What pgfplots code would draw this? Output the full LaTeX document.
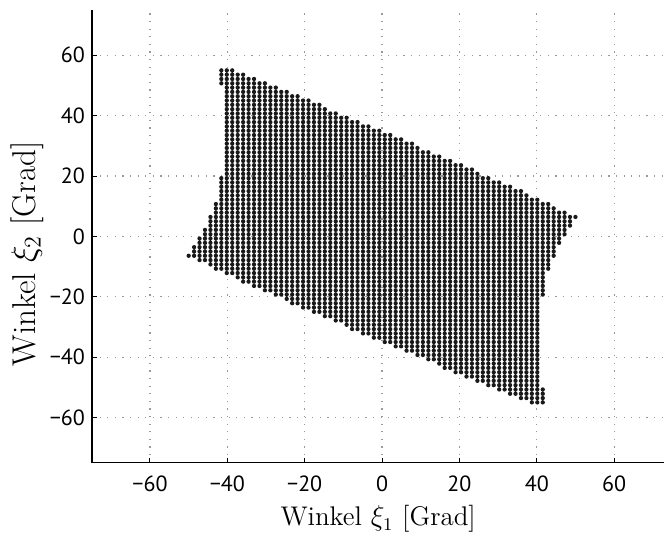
\documentclass[border=0pt]{standalone}
\usepackage{fontspec}
\usepackage{pgfplots}
\pgfplotsset{compat=1.18}
\newfontfamily\ticksans{PT Sans}
\begin{document}
\begin{tikzpicture}
\begin{axis}[
  x=1.935pt, y=1.51pt,
  xmin=-75, xmax=73, ymin=-75, ymax=75,
  axis x line*=bottom, axis y line*=left,
  axis line style={-, line width=0.6pt},
  xtick={-60,-40,-20,0,20,40,60},
  ytick={-60,-40,-20,0,20,40,60},
  xticklabels={−60,−40,−20,0,20,40,60},
  yticklabels={−60,−40,−20,0,20,40,60},
  tick label style={font=\ticksans\fontsize{11}{13}\selectfont},
  xticklabel style={yshift=-3pt},
  major tick length=2.5pt,
  tick style={black, line width=0.5pt},
  grid=major,
  major grid style={gray!80, line width=0.6pt, dash pattern=on 0.6pt off 3.2pt},
  xlabel={Winkel $\xi_1$ [Grad]},
  ylabel={Winkel $\xi_2$ [Grad]},
  xlabel style={font=\fontsize{13.5}{16}\selectfont},
  ylabel style={font=\fontsize{16.5}{19}\selectfont, inner sep=0pt,
    at={(axis description cs:-0.0838,0.4614)}, anchor=south, rotate=0},
  unbounded coords=jump,
]
\addplot[no markers, black!90, line width=2.15pt, line cap=round, dash pattern=on 0pt off 2.157143pt] coordinates {
(-50.000,-6.429) (-50.000,-5.729) (0,nan)
(-48.592,-6.429) (-48.592,-2.871) (0,nan)
(-47.183,-7.857) (-47.183,-0.014) (0,nan)
(-45.775,-7.857) (-45.775,2.843) (0,nan)
(-44.366,-9.286) (-44.366,7.129) (0,nan)
(-42.958,-10.714) (-42.958,11.414) (0,nan)
(-41.549,-10.714) (-41.549,19.986) (0,nan)
(-41.549,50.714) (-41.549,55.7) (0,nan)
(-40.141,-12.143) (-40.141,55.7) (0,nan)
(-38.732,-12.143) (-38.732,55.7) (0,nan)
(-37.324,-13.571) (-37.324,54.271) (0,nan)
(-35.915,-15.000) (-35.915,54.271) (0,nan)
(-34.507,-15.000) (-34.507,52.843) (0,nan)
(-33.099,-16.429) (-33.099,52.843) (0,nan)
(-31.690,-16.429) (-31.690,51.414) (0,nan)
(-30.282,-17.857) (-30.282,51.414) (0,nan)
(-28.873,-17.857) (-28.873,49.986) (0,nan)
(-27.465,-19.286) (-27.465,49.986) (0,nan)
(-26.056,-19.286) (-26.056,48.557) (0,nan)
(-24.648,-20.714) (-24.648,48.557) (0,nan)
(-23.239,-22.143) (-23.239,47.129) (0,nan)
(-21.831,-22.143) (-21.831,47.129) (0,nan)
(-20.423,-23.571) (-20.423,45.700) (0,nan)
(-19.014,-23.571) (-19.014,45.700) (0,nan)
(-17.606,-25.000) (-17.606,44.271) (0,nan)
(-16.197,-25.000) (-16.197,44.271) (0,nan)
(-14.789,-26.429) (-14.789,42.843) (0,nan)
(-13.380,-26.429) (-13.380,41.414) (0,nan)
(-11.972,-27.857) (-11.972,41.414) (0,nan)
(-10.563,-27.857) (-10.563,39.986) (0,nan)
(-9.155,-29.286) (-9.155,39.986) (0,nan)
(-7.746,-30.714) (-7.746,38.557) (0,nan)
(-6.338,-30.714) (-6.338,38.557) (0,nan)
(-4.930,-32.143) (-4.930,37.129) (0,nan)
(-3.521,-32.143) (-3.521,37.129) (0,nan)
(-2.113,-33.571) (-2.113,35.700) (0,nan)
(-0.704,-33.571) (-0.704,35.700) (0,nan)
(0.704,-35.000) (0.704,34.271) (0,nan)
(2.113,-35.000) (2.113,34.271) (0,nan)
(3.521,-36.429) (3.521,32.843) (0,nan)
(4.930,-36.429) (4.930,32.843) (0,nan)
(6.338,-37.857) (6.338,31.414) (0,nan)
(7.746,-37.857) (7.746,31.414) (0,nan)
(9.155,-39.286) (9.155,29.986) (0,nan)
(10.563,-39.286) (10.563,28.557) (0,nan)
(11.972,-40.714) (11.972,28.557) (0,nan)
(13.380,-40.714) (13.380,27.129) (0,nan)
(14.789,-42.143) (14.789,27.129) (0,nan)
(16.197,-43.571) (16.197,25.700) (0,nan)
(17.606,-43.571) (17.606,25.700) (0,nan)
(19.014,-45.000) (19.014,24.271) (0,nan)
(20.423,-45.000) (20.423,24.271) (0,nan)
(21.831,-46.429) (21.831,22.843) (0,nan)
(23.239,-46.429) (23.239,22.843) (0,nan)
(24.648,-47.857) (24.648,21.414) (0,nan)
(26.056,-47.857) (26.056,19.986) (0,nan)
(27.465,-49.286) (27.465,19.986) (0,nan)
(28.873,-49.286) (28.873,18.557) (0,nan)
(30.282,-50.714) (30.282,18.557) (0,nan)
(31.690,-50.714) (31.690,17.129) (0,nan)
(33.099,-52.143) (33.099,17.129) (0,nan)
(34.507,-52.143) (34.507,15.700) (0,nan)
(35.915,-53.571) (35.915,15.700) (0,nan)
(37.324,-53.571) (37.324,14.271) (0,nan)
(38.732,-55.000) (38.732,12.843) (0,nan)
(40.141,-55.000) (40.141,12.843) (0,nan)
(41.549,-55.000) (41.549,-50.014) (0,nan)
(41.549,-19.286) (41.549,11.414) (0,nan)
(42.958,-10.714) (42.958,11.414) (0,nan)
(44.366,-6.429) (44.366,9.986) (0,nan)
(45.775,-2.143) (45.775,8.557) (0,nan)
(47.183,0.714) (47.183,8.557) (0,nan)
(48.592,3.571) (48.592,7.129) (0,nan)
(50.000,6.429) (50.000,7.129)
};
\end{axis}
\path ([yshift=5pt]current axis.north west);
\path ([xshift=-46pt,yshift=-41.5pt]current axis.south west);
\end{tikzpicture}
\end{document}
